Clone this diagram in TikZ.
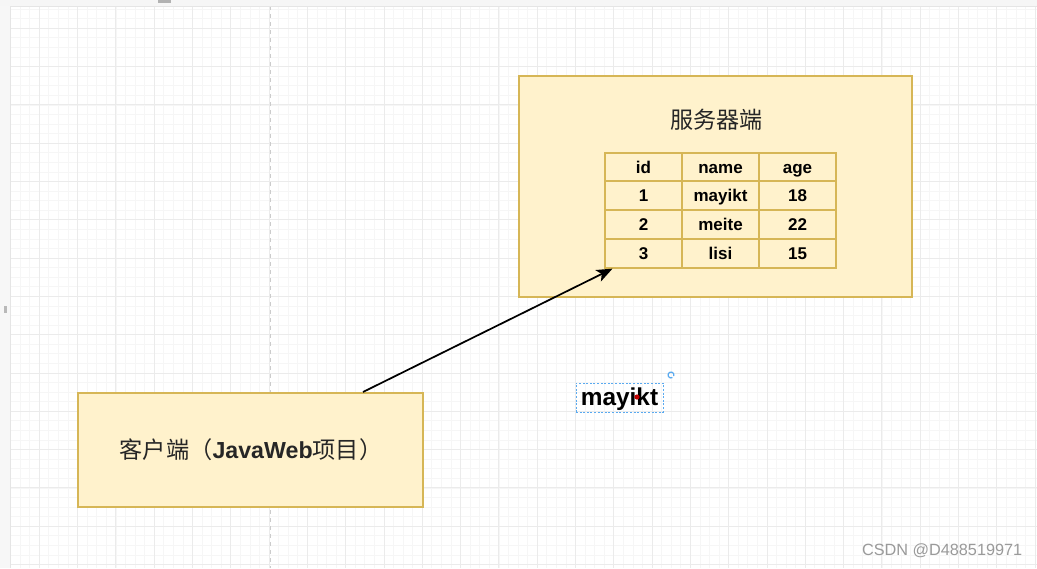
\documentclass[tikz,border=0pt]{standalone}
\usepackage{fontspec}
\setmainfont{Liberation Sans}
\newfontfamily\cjk{Noto Sans CJK SC}
\usetikzlibrary{arrows.meta,calc}
\definecolor{boxfill}{HTML}{FFF2CC}
\definecolor{boxline}{HTML}{D6B656}
\definecolor{gridminor}{HTML}{F6F6F6}
\definecolor{gridmajor}{HTML}{EBEBEB}
\definecolor{selblue}{HTML}{5AAAF0}
\definecolor{wmgray}{HTML}{9A9A9A}
\tikzset{
  panel/.style={draw=boxline, fill=boxfill, line width=1.5pt, inner sep=0pt},
  cell/.style={draw=boxline, fill=boxfill, line width=1.5pt, minimum width=57.75pt, minimum height=21.6pt, inner sep=0pt, text height=9.2pt, text depth=0pt, font=\fontsize{12.75}{14}\selectfont\bfseries},
  conn/.style={line width=1.3pt, -{Stealth[length=12pt,width=9.5pt,inset=3pt]}},
}
\begin{document}
\begin{tikzpicture}[x=0.75pt,y=-0.75pt]
\useasboundingbox (0,0) rectangle (1037,568);
\fill[white] (0,0) rectangle (1037,568);
% grid
\foreach \k in {0,...,108} {
  \draw[gridminor, line width=0.6pt] ({1.0+9.575*\k},6) -- ({1.0+9.575*\k},568);
}
\foreach \k in {0,...,58} {
  \draw[gridminor, line width=0.6pt] (10,{9.15+9.575*\k}) -- (1037,{9.15+9.575*\k});
}
\foreach \k in {0,...,27} {
  \draw[gridmajor, line width=0.7pt] ({39.3+38.3*\k},6) -- ({39.3+38.3*\k},568);
}
\foreach \k in {0,...,14} {
  \draw[gridmajor, line width=0.7pt] (10,{28.3+38.3*\k}) -- (1037,{28.3+38.3*\k});
}
% page break line
\draw[gray!40, dashed, line width=0.6pt] (270,6) -- (270,568);
% UI strips
\fill[gray!7] (0,0) rectangle (1037,6);
\draw[gray!20, line width=0.6pt] (0,6) -- (1037,6);
\fill[gray!60] (158,0) rectangle (171,2.5);
\fill[gray!6] (0,6) rectangle (10,568);
\draw[gray!20, line width=0.6pt] (10,6) -- (10,568);
\fill[gray!55] (3.5,306) rectangle (6.5,313);

% server box
\node[panel, minimum width=294.75pt, minimum height=165.75pt] (server) at (715.5,186.5) {};
\node[font=\cjk\fontsize{17.3}{20}\selectfont, text=black!85] (title) at (716.5,120) {服务器端};

% table
\node[cell] (h1) at (643.5,167) {id};
\node[cell] (h2) at (720.5,167) {name};
\node[cell] (h3) at (797.5,167) {age};
\node[cell] (r11) at (643.5,195.75) {1};
\node[cell] (r12) at (720.5,195.75) {mayikt};
\node[cell] (r13) at (797.5,195.75) {18};
\node[cell] (r21) at (643.5,224.5) {2};
\node[cell] (r22) at (720.5,224.5) {meite};
\node[cell] (r23) at (797.5,224.5) {22};
\node[cell] (r31) at (643.5,253.25) {3};
\node[cell] (r32) at (720.5,253.25) {lisi};
\node[cell] (r33) at (797.5,253.25) {15};

% client box
\node[panel, minimum width=258.75pt, minimum height=85.5pt] (client) at (250.5,450) {};
\node[font=\fontsize{17.4}{20}\selectfont, text=black!85] (clabel) at (251,450) {{\cjk 客户端（}\textbf{JavaWeb}{\cjk 项目）}};

% connector
\coordinate (cstart) at ($(client.north west)+(286,0)$);
\coordinate (ctip) at ($(r31.south west)+(8.5,0)$);
\draw[conn] (cstart) -- (ctip);

% selected text
\node[draw=selblue, dashed, dash pattern=on 1.5pt off 1.2pt, line width=0.6pt, minimum width=65.25pt, minimum height=21.75pt, inner sep=0pt, text height=13pt, text depth=1pt, font=\fontsize{18.3}{20}\selectfont\bfseries] (sel) at (619.5,397.5) {mayikt};
\draw[selblue, line width=0.9pt] (671,375) ++(60:3) arc (60:380:3);
\fill[red!75!black] (637,397) circle (2.6);

% watermark
\node[font=\fontsize{12.2}{14}\selectfont, text=wmgray, anchor=east] (wm) at (1027,551) {CSDN @D488519971};
\end{tikzpicture}
\end{document}
